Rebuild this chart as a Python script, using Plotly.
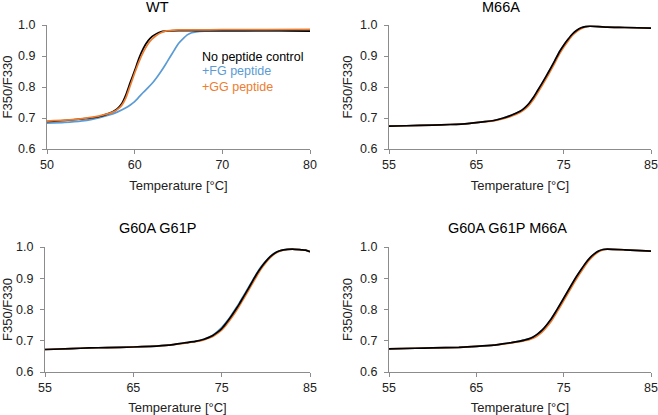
import plotly.graph_objects as go

# ---------------- data ----------------
# WT
wt_t_ctrl = [50, 52, 54, 55, 56, 57, 57.5, 58, 58.5, 59, 59.5, 60, 60.5, 61, 61.5, 62, 62.5, 63, 63.5, 64, 65, 67, 70, 75, 78, 80]
wt_ctrl   = [0.688, 0.692, 0.697, 0.700, 0.705, 0.714, 0.720, 0.729, 0.745, 0.775, 0.815, 0.853, 0.893, 0.925, 0.948, 0.963, 0.972, 0.978, 0.980, 0.981, 0.982, 0.982, 0.982, 0.982, 0.981, 0.980]
wt_t_fg   = [50, 52, 54, 55, 56, 57, 58, 59, 59.5, 60, 60.5, 61, 61.5, 62, 62.5, 63, 63.5, 64, 64.5, 65, 65.5, 66, 66.5, 67, 68, 70, 75, 80]
wt_fg     = [0.683, 0.686, 0.691, 0.695, 0.701, 0.709, 0.719, 0.733, 0.742, 0.753, 0.768, 0.783, 0.797, 0.812, 0.830, 0.850, 0.872, 0.895, 0.918, 0.940, 0.955, 0.968, 0.975, 0.978, 0.980, 0.980, 0.981, 0.981]
wt_t_gg   = [50, 52, 54, 55, 56, 57, 57.5, 58, 58.5, 59, 59.5, 60, 60.5, 61, 61.5, 62, 62.5, 63, 63.5, 64, 65, 67, 70, 75, 80]
wt_gg     = [0.690, 0.693, 0.698, 0.702, 0.707, 0.714, 0.719, 0.727, 0.740, 0.765, 0.805, 0.845, 0.882, 0.913, 0.938, 0.955, 0.967, 0.975, 0.980, 0.982, 0.984, 0.984, 0.985, 0.985, 0.986]

# M66A
m_t    = [55, 57, 60, 62, 64, 65, 66, 67, 68, 69, 70, 70.5, 71, 71.5, 72, 72.5, 73, 73.5, 74, 74.5, 75, 75.5, 76, 76.5, 77, 77.5, 78, 79, 80, 82, 85]
m_ctrl = [0.674, 0.675, 0.677, 0.679, 0.682, 0.685, 0.688, 0.692, 0.699, 0.709, 0.722, 0.732, 0.746, 0.765, 0.788, 0.811, 0.835, 0.860, 0.886, 0.913, 0.935, 0.954, 0.971, 0.983, 0.991, 0.995, 0.996, 0.995, 0.993, 0.992, 0.990]
m_fg   = [0.674, 0.675, 0.677, 0.679, 0.682, 0.685, 0.688, 0.692, 0.699, 0.709, 0.721, 0.731, 0.745, 0.764, 0.786, 0.810, 0.834, 0.859, 0.885, 0.912, 0.934, 0.953, 0.970, 0.982, 0.990, 0.995, 0.996, 0.995, 0.993, 0.992, 0.990]
m_gg   = [0.674, 0.675, 0.677, 0.679, 0.682, 0.685, 0.688, 0.691, 0.697, 0.706, 0.718, 0.727, 0.740, 0.758, 0.780, 0.803, 0.827, 0.852, 0.878, 0.905, 0.928, 0.948, 0.966, 0.979, 0.988, 0.994, 0.996, 0.995, 0.993, 0.992, 0.990]

# G60A G61P
g_t    = [55, 58, 60, 62, 65, 67, 69, 70, 71, 72, 73, 73.5, 74, 74.5, 75, 75.5, 76, 76.5, 77, 77.5, 78, 78.5, 79, 79.5, 80, 80.5, 81, 81.5, 82, 83, 84, 84.5, 85]
g_ctrl = [0.672, 0.675, 0.677, 0.678, 0.680, 0.682, 0.686, 0.690, 0.694, 0.698, 0.705, 0.710, 0.717, 0.727, 0.739, 0.756, 0.775, 0.796, 0.818, 0.842, 0.866, 0.891, 0.915, 0.936, 0.954, 0.969, 0.980, 0.987, 0.991, 0.993, 0.991, 0.990, 0.985]
g_fg   = [0.672, 0.675, 0.677, 0.678, 0.680, 0.682, 0.686, 0.690, 0.694, 0.698, 0.705, 0.711, 0.718, 0.729, 0.742, 0.759, 0.778, 0.799, 0.821, 0.845, 0.869, 0.893, 0.917, 0.938, 0.955, 0.970, 0.981, 0.987, 0.991, 0.993, 0.991, 0.990, 0.985]
g_gg   = [0.672, 0.675, 0.677, 0.678, 0.680, 0.682, 0.686, 0.689, 0.693, 0.697, 0.703, 0.708, 0.714, 0.723, 0.734, 0.750, 0.769, 0.789, 0.811, 0.835, 0.859, 0.884, 0.908, 0.931, 0.950, 0.966, 0.978, 0.986, 0.990, 0.993, 0.991, 0.990, 0.985]

# G60A G61P M66A
h_t    = [55, 58, 60, 63, 65, 67, 68, 69, 70, 70.5, 71, 71.5, 72, 72.5, 73, 73.5, 74, 74.5, 75, 75.5, 76, 76.5, 77, 77.5, 78, 78.5, 79, 79.5, 80, 82, 85]
h_ctrl = [0.674, 0.676, 0.677, 0.679, 0.682, 0.686, 0.690, 0.694, 0.699, 0.702, 0.706, 0.712, 0.721, 0.733, 0.749, 0.767, 0.789, 0.812, 0.836, 0.860, 0.884, 0.907, 0.928, 0.948, 0.965, 0.978, 0.987, 0.992, 0.993, 0.991, 0.987]
h_fg   = [0.674, 0.676, 0.677, 0.679, 0.682, 0.686, 0.690, 0.694, 0.699, 0.702, 0.706, 0.712, 0.721, 0.733, 0.748, 0.766, 0.788, 0.811, 0.835, 0.859, 0.883, 0.906, 0.927, 0.947, 0.964, 0.977, 0.987, 0.992, 0.993, 0.991, 0.987]
h_gg   = [0.674, 0.676, 0.677, 0.679, 0.682, 0.686, 0.689, 0.693, 0.697, 0.700, 0.703, 0.708, 0.716, 0.727, 0.742, 0.759, 0.781, 0.804, 0.828, 0.852, 0.876, 0.899, 0.921, 0.942, 0.960, 0.974, 0.985, 0.991, 0.993, 0.991, 0.987]

titles = ["WT", "M66A", "G60A G61P", "G60A G61P M66A"]
series_names = ["No peptide control", "+FG peptide", "+GG peptide"]
x_ranges = [[50, 80], [55, 85], [55, 85], [55, 85]]
x_ticks = [[50, 60, 70, 80], [55, 65, 75, 85], [55, 65, 75, 85], [55, 65, 75, 85]]
y_ticks = [0.6, 0.7, 0.8, 0.9, 1.0]

# ---------------- styling ----------------
W, H = 658, 415
BLACK, BLUE, ORANGE = "#000000", "#5B9BD5", "#ED7D31"
AXC = "#8C8C8C"
FONT = "Arial, Liberation Sans, sans-serif"

panels = [
    (wt_t_ctrl, wt_ctrl, wt_t_fg, wt_fg, wt_t_gg, wt_gg),
    (m_t, m_ctrl, m_t, m_fg, m_t, m_gg),
    (g_t, g_ctrl, g_t, g_fg, g_t, g_gg),
    (h_t, h_ctrl, h_t, h_fg, h_t, h_gg),
]

# plot-area pixel boxes (left, right, top, bottom)
boxes = [(47, 310, 25, 149), (389, 651, 25, 149), (45, 310, 247, 372), (389, 651, 247, 372)]
title_pos = [(157, 7), (501, 7), (157, 228), (507, 228)]

fig = go.Figure()
layout = dict(
    width=W, height=H, margin=dict(l=0, r=0, t=0, b=0, autoexpand=False),
    paper_bgcolor="white", plot_bgcolor="white", showlegend=False,
    font=dict(family=FONT, size=12, color="#222222"),
    annotations=[],
)

LW = 1.7
for i, (p, box) in enumerate(zip(panels, boxes)):
    xa = "x" if i == 0 else f"x{i+1}"
    ya = "y" if i == 0 else f"y{i+1}"
    tc, vc, tf, vf, tg, vg = p
    fig.add_trace(go.Scatter(x=tf, y=vf, mode="lines", line=dict(color=BLUE, width=LW, shape="spline", smoothing=0.5),
                             name=series_names[1], xaxis=xa, yaxis=ya))
    if i == 0:
        fig.add_trace(go.Scatter(x=tc, y=vc, mode="lines", line=dict(color=BLACK, width=LW, shape="spline", smoothing=0.5),
                                 name=series_names[0], xaxis=xa, yaxis=ya))
        fig.add_trace(go.Scatter(x=tg, y=vg, mode="lines", line=dict(color=ORANGE, width=LW, shape="spline", smoothing=0.5),
                                 name=series_names[2], xaxis=xa, yaxis=ya))
    else:
        fig.add_trace(go.Scatter(x=tg, y=vg, mode="lines", line=dict(color=ORANGE, width=LW, shape="spline", smoothing=0.5),
                                 name=series_names[2], xaxis=xa, yaxis=ya))
        fig.add_trace(go.Scatter(x=tc, y=vc, mode="lines", line=dict(color=BLACK, width=LW, shape="spline", smoothing=0.5),
                                 name=series_names[0], xaxis=xa, yaxis=ya))

    l, r, t, b = box
    xkey = "xaxis" if i == 0 else f"xaxis{i+1}"
    ykey = "yaxis" if i == 0 else f"yaxis{i+1}"
    layout[xkey] = dict(
        domain=[l / W, r / W], anchor=ya, range=x_ranges[i], tickvals=x_ticks[i],
        showline=True, linecolor=AXC, linewidth=1, ticks="outside", ticklen=4, tickcolor=AXC,
        showgrid=False, zeroline=False, tickfont=dict(size=12.5, color="#222222"),
        automargin=False,
        title=dict(text="Temperature [°C]", font=dict(size=13, color="#222222"), standoff=9),
    )
    layout[ykey] = dict(
        domain=[1 - b / H, 1 - t / H], anchor=xa, range=[0.6, 1.0], tickvals=y_ticks,
        tickformat=".1f", showline=True, linecolor=AXC, linewidth=1, ticks="outside", ticklen=4,
        tickcolor=AXC, showgrid=False, zeroline=False, tickfont=dict(size=12.5, color="#222222"),
        ticklabelstandoff=4, automargin=False,
        title=dict(text="F350/F330", font=dict(size=13, color="#222222"), standoff=4),
    )
    tx, ty = title_pos[i]
    layout["annotations"].append(dict(
        text=titles[i], x=tx / W, y=1 - ty / H, xref="paper", yref="paper",
        xanchor="center", yanchor="middle", showarrow=False,
        font=dict(size=14.5, color="#000000", family=FONT),
    ))

# legend text (WT panel)
legend_y = [0.898, 0.850, 0.799]
legend_colors = [BLACK, BLUE, ORANGE]
for name, yy, col in zip(series_names, legend_y, legend_colors):
    layout["annotations"].append(dict(
        text=name, x=67.5, y=yy, xref="x", yref="y", xanchor="left", yanchor="middle",
        showarrow=False, font=dict(size=12.5, color=col, family=FONT),
    ))

fig.update_layout(**layout)
fig.write_html(
    "out.html",
    config={"displayModeBar": False},
    post_script="document.body.style.margin='0';document.body.style.overflow='hidden';",
)
